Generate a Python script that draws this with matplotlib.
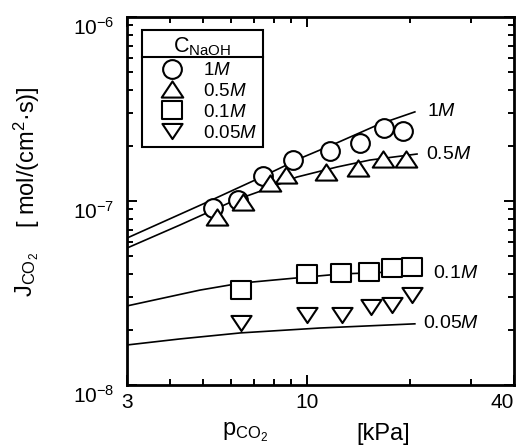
import matplotlib
matplotlib.use("Agg")
import matplotlib.pyplot as plt
from matplotlib.path import Path
from matplotlib.lines import Line2D
from matplotlib.ticker import NullFormatter

plt.rcParams["font.family"] = ["Liberation Sans", "DejaVu Sans"]
plt.rcParams["mathtext.fontset"] = "custom"
plt.rcParams["mathtext.rm"] = "Liberation Sans"
plt.rcParams["mathtext.it"] = "Liberation Sans:italic"
plt.rcParams["mathtext.bf"] = "Liberation Sans:bold"

# ---- measured CO2 absorption flux, J_CO2 [mol/(cm2 s)] vs p_CO2 [kPa] ----
p_1M = [5.33, 6.31, 7.45, 9.11, 11.67, 14.27, 16.76, 19.03]
J_1M = [9.16e-8, 1.01e-7, 1.37e-7, 1.67e-7, 1.87e-7, 2.07e-7, 2.49e-7, 2.40e-7]

p_05M = [5.48, 6.52, 7.81, 8.69, 11.36, 14.07, 16.65, 19.42]
J_05M = [8.18e-8, 9.88e-8, 1.25e-7, 1.38e-7, 1.44e-7, 1.51e-7, 1.69e-7, 1.69e-7]

p_01M = [6.43, 10.0, 12.56, 15.15, 17.68, 20.2]
J_01M = [3.28e-8, 4.01e-8, 4.06e-8, 4.11e-8, 4.32e-8, 4.38e-8]

p_005M = [6.43, 10.0, 12.65, 15.36, 17.68, 20.2]
J_005M = [2.17e-8, 2.40e-8, 2.40e-8, 2.65e-8, 2.72e-8, 3.08e-8]

# ---- model predictions ----
fit_p_1M = [3.0, 5.06, 7.07, 9.74, 12.23, 16.27, 20.6]
fit_J_1M = [6.29e-8, 9.75e-8, 1.30e-7, 1.73e-7, 2.07e-7, 2.62e-7, 3.05e-7]

fit_p_05M = [3.0, 4.28, 6.18, 7.81, 9.36, 12.23, 15.26, 20.9]
fit_J_05M = [5.55e-8, 7.41e-8, 1.01e-7, 1.18e-7, 1.35e-7, 1.53e-7, 1.67e-7, 1.80e-7]

fit_p_01M = [3.0, 4.89, 6.43, 9.36, 12.48, 21.3]
fit_J_01M = [2.69e-8, 3.28e-8, 3.58e-8, 3.82e-8, 4.01e-8, 4.17e-8]

fit_p_005M = [3.0, 4.28, 6.43, 10.9, 20.6]
fit_J_005M = [1.65e-8, 1.78e-8, 1.92e-8, 2.04e-8, 2.15e-8]

series_labels = ["$1M$", "$0.5M$", "$0.1M$", "$0.05M$"]

x_major = [3, 10, 40]
x_major_labels = ["3", "10", "40"]
x_minor = [4, 5, 6, 7, 8, 9, 20, 30]
y_major = [1e-8, 1e-7, 1e-6]
y_major_labels = [r"$10^{-8}$", r"$10^{-7}$", r"$10^{-6}$"]
y_minor = [k * 10.0 ** e for e in (-8, -7) for k in range(2, 10)]

# ---- open marker shapes ----
tri_up = Path([(-1, -0.75), (1, -0.75), (0, 0.75), (-1, -0.75)], closed=True)
tri_down = Path([(-1, 0.75), (1, 0.75), (0, -0.75), (-1, 0.75)], closed=True)
rect = Path([(-1, -0.85), (1, -0.85), (1, 0.85), (-1, 0.85), (-1, -0.85)], closed=True)

styles = [
    dict(marker="o", ms=13.5),
    dict(marker=tri_up, ms=15.5),
    dict(marker=rect, ms=14.5),
    dict(marker=tri_down, ms=14.5),
]
common = dict(ls="none", mfc="white", mec="black", mew=1.5)

fig = plt.figure(figsize=(5.2, 4.46), dpi=100)
ax = fig.add_axes([127 / 520, 1 - 385 / 446, 387 / 520, 368 / 446])
ax.set_xscale("log")
ax.set_yscale("log")
ax.set_xlim(3, 40)
ax.set_ylim(1e-8, 1e-6)

fits = [(fit_p_1M, fit_J_1M), (fit_p_05M, fit_J_05M),
        (fit_p_01M, fit_J_01M), (fit_p_005M, fit_J_005M)]
for fp, fj in fits:
    ax.plot(fp, fj, color="black", lw=1.2, zorder=2)

meas = [(p_1M, J_1M), (p_05M, J_05M), (p_01M, J_01M), (p_005M, J_005M)]
for (pp, jj), st in zip(meas, styles):
    ax.plot(pp, jj, zorder=3, **common, **st)

# curve labels at the right end of each model line
label_pos = [(22.4, 3.05e-7), (22.2, 1.78e-7), (23.2, 4.06e-8), (21.8, 2.15e-8)]
for (lx, ly), txt in zip(label_pos, series_labels):
    ax.text(lx, ly, txt, fontsize=14, ha="left", va="center")

# ---- axes styling ----
ax.set_xticks(x_major, x_major_labels)
ax.set_xticks(x_minor, minor=True)
ax.xaxis.set_minor_formatter(NullFormatter())
ax.set_yticks(y_major, y_major_labels)
ax.set_yticks(y_minor, minor=True)
ax.yaxis.set_minor_formatter(NullFormatter())

ax.tick_params(which="both", direction="in", top=True, right=True,
               width=1.4, labelsize=15)
ax.tick_params(which="major", length=7)
ax.tick_params(which="minor", length=4)
ax.tick_params(axis="x", pad=6)
ax.tick_params(axis="y", pad=9)
for t in ax.yaxis.get_major_ticks():
    t.label1.set_verticalalignment("top")
ax.xaxis.get_major_ticks()[-1].label1.set_horizontalalignment("right")
for sp in ax.spines.values():
    sp.set_linewidth(2)

# ---- legend ----
handles = [Line2D([], [], **common, **st) for st in styles]
leg = ax.legend(handles, series_labels, title=r"$\mathregular{C_{NaOH}}$",
                loc="upper left", bbox_to_anchor=(15 / 387, 355 / 368),
                borderaxespad=0, fontsize=13.5, title_fontsize=15.5,
                frameon=True, fancybox=False, edgecolor="black", framealpha=1,
                borderpad=0.3, handlelength=2.6, handletextpad=0.35,
                labelspacing=0.2, numpoints=1)
leg.get_frame().set_linewidth(1.5)

# ---- axis titles ----
fig.text(245 / 520, 11 / 446, r"$\mathregular{p_{CO_2}}$", ha="center",
         va="baseline", fontsize=17)
fig.text(383 / 520, 6 / 446, "[kPa]", ha="center", va="baseline", fontsize=17)
fig.text(27 / 520, 1 - 157 / 446, "[ mol/(cm$^{2}$·s)]", rotation=90,
         ha="center", va="center", fontsize=17)
fig.text(27 / 520, 1 - 275 / 446, r"$\mathregular{J_{CO_2}}$", rotation=90,
         ha="center", va="center", fontsize=17)

# rule under the legend title
fig.canvas.draw()
r = fig.canvas.get_renderer()
fb = leg.get_frame().get_window_extent(r)
tb = leg.get_title().get_window_extent(r)
ysep = tb.y0 + 1
inv = fig.transFigure.inverted()
(x0, y0) = inv.transform((fb.x0, ysep))
(x1, _) = inv.transform((fb.x1, ysep))
fig.add_artist(Line2D([x0, x1], [y0, y0], color="black", lw=1.5,
                      transform=fig.transFigure))

fig.savefig("out.png", dpi=100)
